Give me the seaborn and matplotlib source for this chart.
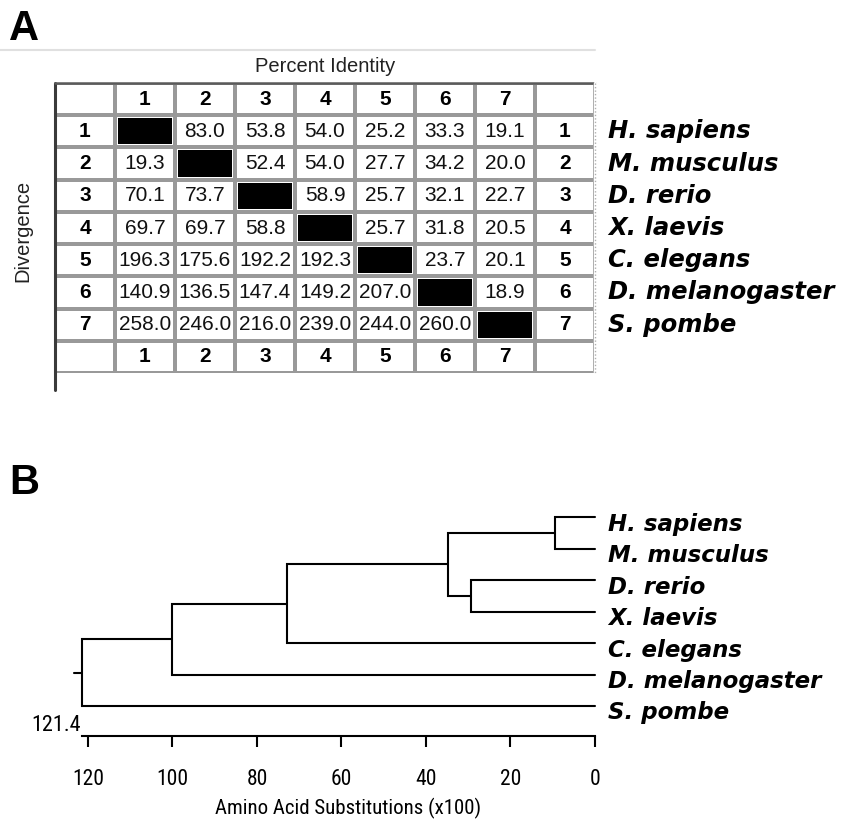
import numpy as np
import pandas as pd
import matplotlib
matplotlib.use("Agg")
import matplotlib.pyplot as plt
from matplotlib.colors import ListedColormap
from matplotlib.lines import Line2D
from matplotlib.transforms import blended_transform_factory
import seaborn as sns

# ---------------- data ----------------
species = ["H. sapiens", "M. musculus", "D. rerio", "X. laevis",
           "C. elegans", "D. melanogaster", "S. pombe"]
seq_ids = ["1", "2", "3", "4", "5", "6", "7"]
# upper triangle = percent identity, lower triangle = divergence
pair_values = [
    [None, 83.0, 53.8, 54.0, 25.2, 33.3, 19.1],
    [19.3, None, 52.4, 54.0, 27.7, 34.2, 20.0],
    [70.1, 73.7, None, 58.9, 25.7, 32.1, 22.7],
    [69.7, 69.7, 58.8, None, 25.7, 31.8, 20.5],
    [196.3, 175.6, 192.2, 192.3, None, 23.7, 20.1],
    [140.9, 136.5, 147.4, 149.2, 207.0, None, 18.9],
    [258.0, 246.0, 216.0, 239.0, 244.0, 260.0, None],
]
# dendrogram: merges of cluster ids (leaves 0..6, new clusters 7..)
merges = [(0, 1), (2, 3), (7, 8), (9, 4), (10, 5), (11, 6)]
merge_heights = [9.4, 29.4, 34.8, 73.0, 100.2, 121.4]
tree_depth = 121.4
axis_ticks = [120, 100, 80, 60, 40, 20, 0]

# ---------------- style ----------------
sns.set_style("white")
plt.rcParams["font.family"] = ["Liberation Sans", "DejaVu Sans"]
plt.rcParams["text.color"] = "black"
NARROW = ["Roboto Condensed", "Liberation Sans Narrow", "Liberation Sans", "DejaVu Sans"]
HEAVY = dict(family=["DejaVu Sans"], weight="bold", style="oblique", color="black")

W, H = 854, 826
fig = plt.figure(figsize=(W / 100, H / 100), dpi=100)


def rect(l, t, r, b):
    return [l / W, 1 - b / H, (r - l) / W, (b - t) / H]


# ---------------- panel A ----------------
fig.text(9 / W, 1 - 40 / H, "A", fontsize=30, weight="bold", ha="left",
         va="baseline", color="black")
fig.add_artist(Line2D([0, 595 / W], [1 - 50 / H] * 2, color="#e0e0e0", lw=1.5))

n = len(seq_ids)
N = n + 2
annot = np.full((N, N), "", dtype=object)
for j, s in enumerate(seq_ids):
    annot[0, j + 1] = s
    annot[N - 1, j + 1] = s
    annot[j + 1, 0] = s
    annot[j + 1, N - 1] = s
for i in range(n):
    for j in range(n):
        v = pair_values[i][j]
        if v is not None:
            annot[i + 1, j + 1] = f"{v:.1f}"
diag = np.zeros((N, N), bool)
for i in range(n):
    diag[i + 1, i + 1] = True
grid = pd.DataFrame(np.zeros((N, N)))

axA = fig.add_axes(rect(55, 83, 595, 373))
sns.heatmap(grid + 1, mask=~diag, cmap=ListedColormap(["black"]), cbar=False,
            linewidths=3.2, linecolor="white", xticklabels=False,
            yticklabels=False, ax=axA)
sns.heatmap(grid, mask=diag, cmap=ListedColormap(["white"]), cbar=False,
            linewidths=1.5, linecolor="#999999", annot=annot, fmt="",
            annot_kws=dict(fontsize=15, color="#111111"),
            xticklabels=False, yticklabels=False, ax=axA)
for t in axA.texts:
    if t.get_text() in seq_ids:
        t.set_fontweight("bold")
        t.set_color("black")
for sp in axA.spines.values():
    sp.set_visible(False)
row_h = 290 / N
axA.plot([0, 0], [0, N + 17 / row_h], color="#3a3a3a", lw=2.2, clip_on=False)
axA.plot([0, N], [0, 0], color="#5a5a5a", lw=1.8, clip_on=False)
axA.plot([N, N], [0, N], color="white", lw=2.5, clip_on=False)
axA.plot([N, N], [0, N], color="#b0b0b0", lw=1, ls=(0, (1, 1.5)), clip_on=False)

for i, s in enumerate(species):
    axA.text(N + 13 / 60, i + 1.5, s, ha="left", va="center", fontsize=17.5,
             clip_on=False, **HEAVY)

fig.text(325 / W, 1 - 67 / H, "Percent Identity", ha="center", va="center",
         fontsize=14.5, color="#222222")
fig.text(23 / W, 1 - 231 / H, "Divergence", rotation=90, ha="center",
         va="center", fontsize=14.5, color="#222222")

# ---------------- panel B ----------------
fig.text(9 / W, 1 - 494 / H, "B", fontsize=30, weight="bold", ha="left",
         va="baseline", color="black")

axB = fig.add_axes(rect(82, 505, 595, 736))
axB.set_xlim(tree_depth, 0)
leaf_px = 31.5
axB.set_ylim((736 - 517) / leaf_px, (505 - 517) / leaf_px)

pos = {i: (0.0, float(i)) for i in range(n)}
for k, ((a, b), h) in enumerate(zip(merges, merge_heights)):
    xa, ya = pos[a]
    xb, yb = pos[b]
    axB.plot([xa, h, h, xb], [ya, ya, yb, yb], color="black", lw=1.5,
             solid_joinstyle="miter", clip_on=False)
    pos[n + k] = (h, (ya + yb) / 2)
rx, ry = pos[n + len(merges) - 1]
axB.plot([rx, rx + 1.9], [ry, ry], color="black", lw=1.5, clip_on=False)

sns.despine(ax=axB, left=True, top=True, right=True)
axB.spines["bottom"].set_linewidth(1.5)
axB.spines["bottom"].set_color("black")
axB.set_xticks(axis_ticks)
axB.set_xticklabels([str(t) for t in axis_ticks])
axB.set_yticks([])
axB.tick_params(axis="x", bottom=True, direction="out", length=8, width=1.5,
                pad=16, labelsize=15.5, colors="black")
for lbl in axB.get_xticklabels():
    lbl.set_family(NARROW)

trans = blended_transform_factory(axB.transData, axB.transAxes)
axB.text(tree_depth + 0.3, 0.0, f"{tree_depth:.1f}", transform=trans,
         ha="right", va="bottom", fontsize=16, family=NARROW, color="black")

for i, s in enumerate(species):
    axB.text(-13 / 4.233, i + 7 / leaf_px, s, ha="left", va="center",
             fontsize=16.5, clip_on=False, **HEAVY)

fig.text(348 / W, 1 - 808 / H, "Amino Acid Substitutions (x100)", ha="center",
         va="center", fontsize=15, family=NARROW, color="black")

fig.savefig("out.png", dpi=100)
